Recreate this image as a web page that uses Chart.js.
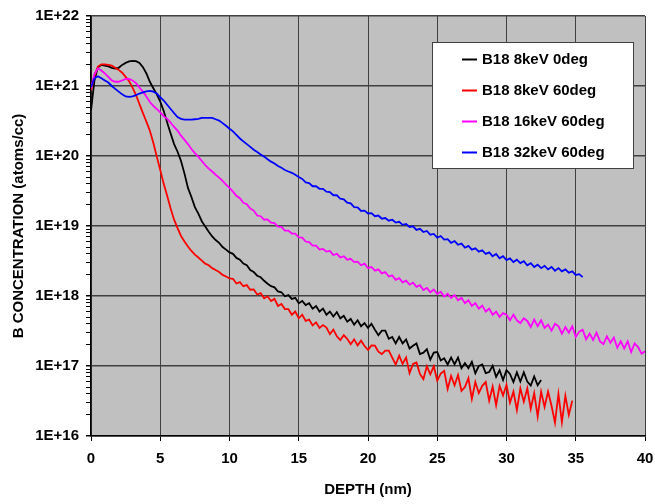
<!DOCTYPE html>
<html>
<head>
<meta charset="utf-8">
<script src="https://cdn.jsdelivr.net/npm/chart.js@4.4.1/dist/chart.umd.min.js"></script>
<style>
  body { margin: 0; background: #fff; }
  #wrap { width: 655px; height: 504px; }
</style>
</head>
<body>
<div id="wrap"><canvas id="chart" width="655" height="504"></canvas></div>
<script>
// depth grid (nm), every 0.25 nm
const depth = [
  0, 0.25, 0.5, 0.75, 1, 1.25, 1.5, 1.75, 2, 2.25, 2.5, 2.75, 3, 3.25, 3.5, 3.75,
  4, 4.25, 4.5, 4.75, 5, 5.25, 5.5, 5.75, 6, 6.25, 6.5, 6.75, 7, 7.25, 7.5, 7.75,
  8, 8.25, 8.5, 8.75, 9, 9.25, 9.5, 9.75, 10, 10.25, 10.5, 10.75, 11, 11.25, 11.5, 11.75,
  12, 12.25, 12.5, 12.75, 13, 13.25, 13.5, 13.75, 14, 14.25, 14.5, 14.75, 15, 15.25, 15.5, 15.75,
  16, 16.25, 16.5, 16.75, 17, 17.25, 17.5, 17.75, 18, 18.25, 18.5, 18.75, 19, 19.25, 19.5, 19.75,
  20, 20.25, 20.5, 20.75, 21, 21.25, 21.5, 21.75, 22, 22.25, 22.5, 22.75, 23, 23.25, 23.5, 23.75,
  24, 24.25, 24.5, 24.75, 25, 25.25, 25.5, 25.75, 26, 26.25, 26.5, 26.75, 27, 27.25, 27.5, 27.75,
  28, 28.25, 28.5, 28.75, 29, 29.25, 29.5, 29.75, 30, 30.25, 30.5, 30.75, 31, 31.25, 31.5, 31.75,
  32, 32.25, 32.5, 32.75, 33, 33.25, 33.5, 33.75, 34, 34.25, 34.5, 34.75, 35, 35.25, 35.5, 35.75,
  36, 36.25, 36.5, 36.75, 37, 37.25, 37.5, 37.75, 38, 38.25, 38.5, 38.75, 39, 39.25, 39.5, 39.75,
  40
];

// B18 8keV 0deg (atoms/cc)
const b8keV0 = [
  4.5e20, 1.2e21, 1.86e21, 2.0e21, 1.95e21, 1.9e21, 1.82e21, 1.78e21, 1.82e21, 2.0e21,
  2.14e21, 2.24e21, 2.29e21, 2.26e21, 2.14e21, 1.86e21, 1.51e21, 1.15e21, 9.3e20, 7.6e20,
  6.0e20, 4.4e20, 3.0e20, 2.1e20, 1.48e20, 1.15e20, 8.5e19, 5.6e19, 3.5e19, 2.6e19,
  1.86e19, 1.5e19, 1.17e19, 9.8e18, 8.3e18, 7.1e18, 6.3e18, 5.75e18, 5.0e18, 4.6e18,
  4.2e18, 4.0e18, 3.5e18, 3.3e18, 2.9e18, 2.75e18, 2.35e18, 2.2e18, 1.95e18, 1.85e18,
  1.65e18, 1.5e18, 1.38e18, 1.33e18, 1.16e18, 1.13e18, 9.9e17, 1.03e18, 9.1e17, 9.4e17,
  7.9e17, 8.5e17, 7.4e17, 7.9e17, 6.6e17, 7.2e17, 6.0e17, 6.6e17, 5.4e17, 6.0e17,
  5.1e17, 5.9e17, 4.8e17, 5.2e17, 4.3e17, 4.7e17, 3.9e17, 4.5e17, 3.7e17, 4.1e17,
  3.5e17, 4.0e17, 3.3e17, 2.75e17, 3.2e17, 3.2e17, 2.45e17, 2.6e17, 2.1e17, 2.6e17,
  2.1e17, 2.4e17, 1.78e17, 1.95e17, 2.1e17, 1.48e17, 1.55e17, 1.74e17, 1.23e17, 1.55e17,
  1.58e17, 1.2e17, 1.29e17, 1.05e17, 1.32e17, 1.06e17, 1.32e17, 9.3e16, 1.1e17, 9.3e16,
  1.15e17, 7.9e16, 1.0e17, 1.05e17, 7.9e16, 8.2e16, 1.01e17, 7.0e16, 8.7e16, 6.3e16,
  8.7e16, 7.7e16, 5.9e16, 8.1e16, 6.0e16, 8.1e16, 6.0e16, 5.25e16, 7.1e16, 5.3e16,
  6.3e16
];

// B18 8keV 60deg
const b8keV60 = [
  8.7e20, 1.41e21, 1.9e21, 2.04e21, 2.04e21, 2.0e21, 1.95e21, 1.82e21, 1.7e21, 1.55e21,
  1.35e21, 1.17e21, 9.5e20, 7.4e20, 5.5e20, 4.1e20, 3.1e20, 2.3e20, 1.55e20, 9.8e19,
  6.3e19, 4.0e19, 2.7e19, 1.78e19, 1.23e19, 9.3e18, 7.2e18, 6.0e18, 5.1e18, 4.4e18,
  3.9e18, 3.55e18, 3.2e18, 2.9e18, 2.75e18, 2.5e18, 2.35e18, 2.2e18, 2.0e18, 1.9e18,
  1.78e18, 1.76e18, 1.51e18, 1.58e18, 1.38e18, 1.43e18, 1.23e18, 1.24e18, 1.05e18, 1.1e18,
  9.3e17, 9.9e17, 8.5e17, 9.1e17, 7.2e17, 7.7e17, 6.5e17, 6.5e17, 5.4e17, 6.0e17,
  4.8e17, 5.4e17, 4.4e17, 4.6e17, 3.8e17, 4.2e17, 3.5e17, 3.85e17,
  3.55e17, 2.85e17, 3.3e17, 2.66e17, 2.35e17, 2.75e17, 2.45e17, 2.05e17, 2.4e17, 1.97e17,
  2.3e17, 1.93e17, 1.7e17, 1.97e17, 1.95e17, 1.6e17, 1.48e17, 1.66e17, 1.66e17, 1.32e17,
  1.05e17, 1.41e17, 1.07e17, 1.32e17, 7.9e16, 1.07e17, 1.12e17, 7.7e16, 6.5e16, 9.9e16,
  7.6e16, 9.9e16, 6.2e16, 7.8e16, 8.5e16, 4.7e16, 7.2e16, 5.3e16, 7.4e16, 4.4e16,
  5.0e16, 6.7e16, 3.4e16, 5.9e16, 4.1e16, 5.2e16, 5.9e16, 3.2e16, 5.1e16, 2.75e16,
  5.2e16, 3.8e16, 5.4e16, 3.0e16, 4.3e16, 2.35e16, 4.8e16, 3.1e16, 4.8e16, 2.45e16,
  4.1e16, 1.9e16, 4.3e16, 2.6e16, 4.3e16, 2.7e16, 1.55e16, 4.0e16, 1.58e16, 3.75e16,
  2.0e16, 3.2e16
];

// B18 16keV 60deg
const b16keV60 = [
  9.3e20, 1.48e21, 1.78e21, 1.66e21, 1.51e21, 1.35e21, 1.2e21, 1.15e21, 1.15e21, 1.2e21,
  1.26e21, 1.26e21, 1.2e21, 1.1e21, 9.5e20, 8.3e20, 7.1e20, 5.9e20, 5.2e20, 4.7e20,
  4.2e20, 3.7e20, 3.4e20, 3.0e20, 2.6e20, 2.3e20, 1.95e20, 1.7e20, 1.48e20, 1.26e20,
  1.1e20, 9.8e19, 8.5e19, 7.4e19, 6.6e19, 6.0e19, 5.4e19, 4.9e19, 4.4e19, 3.9e19,
  3.5e19, 3.1e19, 2.7e19, 2.5e19, 2.15e19, 2.05e19, 1.78e19, 1.66e19, 1.41e19, 1.38e19,
  1.23e19, 1.24e19, 1.12e19, 1.1e19, 9.8e18, 9.7e18, 8.6e18, 8.6e18, 7.8e18, 7.8e18,
  6.9e18, 6.8e18, 6.0e18, 5.9e18, 5.25e18, 5.25e18, 4.6e18, 4.7e18, 4.3e18, 4.4e18,
  3.85e18, 4.0e18, 3.55e18, 3.7e18, 3.3e18, 3.4e18, 3.05e18, 3.1e18, 2.75e18, 2.9e18,
  2.5e18, 2.6e18, 2.3e18, 2.4e18, 2.1e18, 2.2e18, 1.9e18, 1.97e18, 1.7e18, 1.8e18,
  1.57e18, 1.66e18, 1.45e18, 1.55e18, 1.35e18, 1.43e18, 1.22e18, 1.3e18, 1.13e18, 1.24e18,
  1.07e18, 1.15e18, 9.8e17, 1.08e18, 9.4e17, 1.03e18, 8.7e17, 9.4e17, 7.9e17, 8.7e17,
  7.2e17, 7.9e17, 6.6e17, 7.3e17, 6.0e17, 6.6e17, 5.4e17, 6.0e17, 5.0e17, 5.7e17,
  5.4e17, 4.5e17, 5.4e17, 4.5e17, 4.1e17, 4.8e17, 4.4e17, 3.6e17, 4.6e17, 3.7e17,
  4.5e17, 3.5e17, 3.9e17, 3.2e17, 4.0e17, 3.7e17, 2.9e17, 3.6e17, 3.0e17, 3.7e17,
  2.6e17, 3.1e17, 3.3e17, 2.4e17, 2.9e17, 2.35e17, 3.0e17, 2.25e17, 2.05e17, 2.65e17,
  2.15e17, 2.55e17, 1.82e17, 2.25e17, 1.78e17, 2.25e17, 1.58e17, 2.1e17, 1.86e17, 1.5e17,
  1.62e17
];

// B18 32keV 60deg
const b32keV60 = [
  9.6e20, 1.29e21, 1.38e21, 1.29e21, 1.2e21, 1.12e21, 1.0e21, 9.1e20, 8.3e20, 7.6e20,
  7.1e20, 7.0e20, 7.1e20, 7.4e20, 7.8e20, 8.1e20, 8.4e20, 8.5e20, 8.3e20, 7.8e20,
  6.9e20, 6.2e20, 5.4e20, 4.7e20, 4.1e20, 3.6e20, 3.4e20, 3.3e20, 3.3e20, 3.3e20,
  3.35e20, 3.4e20, 3.5e20, 3.5e20, 3.5e20, 3.5e20, 3.35e20, 3.2e20, 2.95e20, 2.7e20,
  2.45e20, 2.25e20, 2.0e20, 1.78e20, 1.62e20, 1.48e20, 1.35e20, 1.23e20, 1.14e20, 1.05e20,
  9.8e19, 9.0e19, 8.3e19, 7.8e19, 7.2e19, 6.8e19, 6.3e19, 6.0e19, 5.75e19, 5.4e19,
  5.0e19, 4.7e19, 4.2e19, 4.1e19, 3.7e19, 3.7e19, 3.4e19, 3.4e19, 3.1e19, 3.05e19,
  2.75e19, 2.75e19, 2.45e19, 2.4e19, 2.15e19, 2.1e19, 1.86e19, 1.84e19, 1.64e19, 1.66e19,
  1.51e19, 1.53e19, 1.38e19, 1.41e19, 1.27e19, 1.3e19, 1.19e19, 1.23e19, 1.12e19, 1.15e19,
  1.04e19, 1.07e19, 9.7e18, 9.9e18, 8.8e18, 9.1e18, 8.2e18, 8.5e18, 7.5e18, 7.7e18,
  6.8e18, 7.2e18, 6.4e18, 6.5e18, 5.75e18, 6.1e18, 5.4e18, 5.6e18, 4.9e18, 5.2e18,
  4.6e18, 4.8e18, 4.3e18, 4.5e18, 4.0e18, 4.2e18, 3.7e18, 4.0e18, 3.45e18, 3.7e18,
  3.25e18, 3.45e18, 3.05e18, 3.3e18, 2.95e18, 3.15e18, 2.75e18, 2.95e18, 2.6e18, 2.8e18,
  2.5e18, 2.7e18, 2.4e18, 2.6e18, 2.3e18, 2.5e18, 2.25e18, 2.4e18, 2.15e18, 2.25e18,
  2.0e18, 2.05e18, 1.86e18
];

const seriesNames = ['B18 8keV 0deg', 'B18 8keV 60deg', 'B18 16keV 60deg', 'B18 32keV 60deg'];
const seriesColors = ['#000000', '#ff0000', '#ff00ff', '#0000ff'];
const seriesValues = [b8keV0, b8keV60, b16keV60, b32keV60];

const xTicks = [0, 5, 10, 15, 20, 25, 30, 35, 40];
const yDecades = [16, 17, 18, 19, 20, 21, 22];
const yMinorSteps = [2, 3, 4, 5, 6, 7, 8, 9];

const FONT = "'Liberation Sans', Arial, sans-serif";

function toPoints(values) {
    const pts = [];
    values.forEach((v, i) => {
        if (v != null) pts.push({ x: depth[i], y: v });
    });
    return pts;
}

function isDecade(v) {
    const e = Math.log10(v);
    return Math.abs(e - Math.round(e)) < 1e-6;
}

// grey plot area
const plotBackground = {
    id: 'plotBackground',
    beforeDraw(chart) {
        const { ctx, chartArea: a } = chart;
        ctx.save();
        ctx.fillStyle = '#c0c0c0';
        ctx.fillRect(a.left, a.top, a.right - a.left, a.bottom - a.top);
        ctx.restore();
    }
};

// boxed legend inside the plot, top right
const boxLegend = {
    id: 'boxLegend',
    afterDraw(chart) {
        const ctx = chart.ctx;
        const x = 432, y = 42, w = 201, h = 126;
        ctx.save();
        ctx.fillStyle = '#ffffff';
        ctx.fillRect(x, y, w, h);
        ctx.strokeStyle = '#404040';
        ctx.lineWidth = 1;
        ctx.strokeRect(x + 0.5, y + 0.5, w, h);
        ctx.font = 'bold 15px ' + FONT;
        ctx.textBaseline = 'middle';
        ctx.textAlign = 'left';
        chart.data.datasets.forEach((ds, i) => {
            const ry = y + 17.5 + i * 31;
            ctx.strokeStyle = ds.borderColor;
            ctx.lineWidth = 2;
            ctx.beginPath();
            ctx.moveTo(462, ry);
            ctx.lineTo(477, ry);
            ctx.stroke();
            ctx.fillStyle = '#000';
            ctx.fillText(ds.label, 482, ry);
        });
        ctx.restore();
    }
};

const datasets = seriesNames.map((name, i) => ({
    label: name,
    data: toPoints(seriesValues[i]),
    borderColor: seriesColors[i],
    backgroundColor: seriesColors[i],
    borderWidth: 1.8,
    pointRadius: 0,
    tension: 0,
    fill: false,
    order: 4 - i
}));

new Chart(document.getElementById('chart'), {
    type: 'line',
    data: { datasets },
    plugins: [plotBackground, boxLegend],
    options: {
        responsive: false,
        animation: false,
        devicePixelRatio: 1,
        layout: { padding: { top: 16, right: 2, left: 0, bottom: 0 } },
        plugins: {
            legend: { display: false },
            tooltip: { enabled: false }
        },
        scales: {
            x: {
                type: 'linear',
                min: 0,
                max: 40,
                afterFit: s => {
                    s.height = 68;
                    s.paddingLeft = 0;
                    s.paddingRight = 10;
                },
                afterBuildTicks: s => { s.ticks = xTicks.map(v => ({ value: v })); },
                ticks: {
                    color: '#000',
                    padding: 9,
                    maxRotation: 0,
                    font: { family: FONT, size: 15, weight: 'bold' }
                },
                grid: { color: '#404040', lineWidth: 1, tickColor: '#000', tickLength: 5 },
                border: { color: '#000', width: 1.5 },
                title: {
                    display: true,
                    text: 'DEPTH (nm)',
                    color: '#000',
                    padding: { top: 0, bottom: 5 },
                    font: { family: FONT, size: 15, weight: 'bold' }
                }
            },
            y: {
                type: 'logarithmic',
                min: 1e16,
                max: 1e22,
                afterFit: s => { s.width = 91; },
                afterBuildTicks: s => {
                    const t = [];
                    yDecades.forEach((e, k) => {
                        t.push({ value: Math.pow(10, e) });
                        if (k < yDecades.length - 1) {
                            yMinorSteps.forEach(m => t.push({ value: m * Math.pow(10, e) }));
                        }
                    });
                    s.ticks = t;
                },
                ticks: {
                    autoSkip: false,
                    color: '#000',
                    padding: 7,
                    font: { family: FONT, size: 15, weight: 'bold' },
                    callback: v => isDecade(v) ? '1E+' + Math.round(Math.log10(v)) : ''
                },
                grid: {
                    color: c => isDecade(c.tick.value) ? '#404040' : 'rgba(0,0,0,0)',
                    lineWidth: c => isDecade(c.tick.value) ? 1.5 : 1,
                    tickColor: '#000',
                    tickLength: 5
                },
                border: { color: '#000', width: 1.5 },
                title: {
                    display: true,
                    text: 'B CONCENTRATION (atoms/cc)',
                    color: '#000',
                    padding: { top: 10, bottom: 0 },
                    font: { family: FONT, size: 15, weight: 'bold' }
                }
            }
        }
    }
});
</script>
</body>
</html>
